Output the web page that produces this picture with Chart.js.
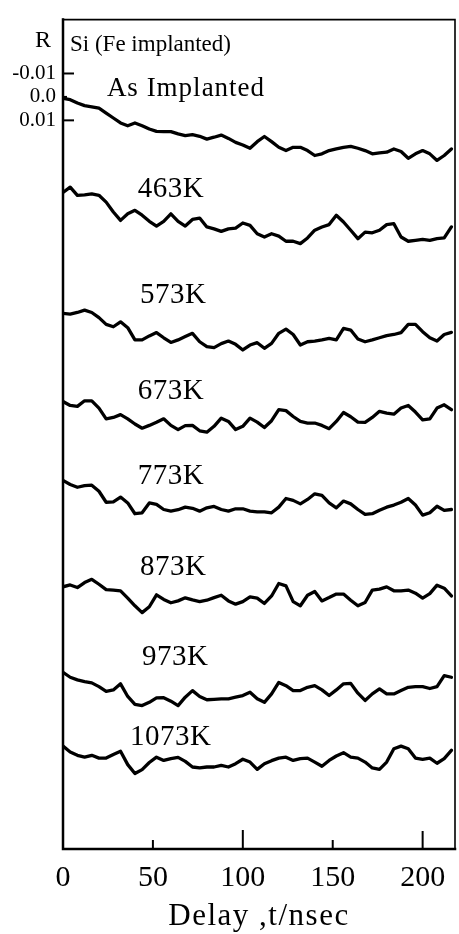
<!DOCTYPE html>
<html><head><meta charset="utf-8">
<script src="https://cdn.jsdelivr.net/npm/chart.js@4/dist/chart.umd.min.js"></script>
<style>html,body{margin:0;padding:0;background:#fff;}canvas{display:block;}</style>
</head><body>
<canvas id="c" width="459" height="934"></canvas>
<script>
// Delay t (nsec)
const delays = [0,4,8,12,16,20,24,28,32,36,40,44,48,52,56,60,64,68,72,76,80,84,88,92,96,100,104,108,112,116,120,124,128,132,136,140,144,148,152,156,160,164,168,172,176,180,184,188,192,196,200,204,208,212,216];
// R values (x 10^-3) as plotted, each curve offset downward on the reversed R axis
const asImplanted = [0.6,1.2,2.6,3.7,4.2,4.8,6.9,9.0,11.1,12.3,11.1,12.3,13.7,14.7,14.8,14.8,15.8,16.5,16.1,16.8,18.0,17.2,16.3,17.7,19.4,20.5,21.9,19.1,16.9,19.1,21.5,22.9,21.5,21.5,22.9,25.0,24.3,22.9,22.2,21.5,21.1,21.9,22.9,24.3,23.9,23.6,22.2,23.3,26.2,24.3,22.9,24.3,27.1,25.0,22.2];
const k463 = [40.8,38.5,42.0,41.8,41.4,42.0,44.9,49.1,52.7,49.9,48.4,50.5,53.1,55.1,53.1,49.9,53.1,55.1,52.3,51.7,55.5,56.3,57.4,56.3,56.0,53.8,54.8,58.4,59.8,58.4,59.4,61.6,61.6,62.6,60.2,56.9,55.5,54.5,50.5,53.4,56.9,60.5,57.7,58.0,56.9,54.5,54.1,59.8,61.6,61.2,60.8,61.2,60.5,60.2,55.5];
const k573 = [92.4,92.7,92.0,91.0,92.0,94.2,97.1,98.1,96.0,98.5,103.7,103.7,102.0,100.6,102.8,104.8,103.7,102.3,100.9,104.5,106.6,107.0,105.3,104.2,105.6,108.0,105.9,104.9,107.3,105.2,100.9,99.1,101.4,105.9,104.5,104.2,103.7,103.1,103.7,98.8,99.5,103.3,104.5,103.7,102.8,101.9,101.4,100.6,97.1,97.1,100.2,102.8,104.2,101.4,100.5];
const k673 = [130.0,131.7,132.1,129.7,129.7,132.8,137.4,136.8,135.6,137.4,139.6,141.4,140.2,138.9,137.4,140.2,142.0,140.3,140.2,142.5,143.1,140.6,137.1,138.5,142.0,140.6,137.1,138.8,141.1,138.2,133.5,133.9,136.4,138.5,139.2,139.2,140.2,141.6,138.5,134.7,136.5,138.8,138.9,136.8,134.2,135.0,135.4,132.8,131.7,134.5,137.8,137.4,132.8,131.4,133.5];
const k773 = [163.7,165.4,166.6,165.9,165.7,168.3,173.0,172.8,170.8,173.3,177.9,177.5,173.3,173.9,176.1,176.8,176.2,175.1,175.6,176.8,175.4,174.8,176.1,176.8,175.8,175.8,176.8,177.1,177.1,177.5,175.1,171.4,172.2,173.7,171.8,169.4,170.1,173.3,175.4,172.5,173.7,176.1,178.2,177.9,176.4,175.1,174.2,173.0,171.4,174.2,178.5,177.5,174.7,176.5,176.1];
const k873 = [209.1,208.3,209.4,207.3,205.9,208.0,210.3,210.5,210.8,213.9,217.2,220.1,217.6,212.5,214.5,215.9,215.1,213.8,214.7,215.4,214.8,213.7,212.7,215.1,216.5,215.4,213.4,213.9,216.2,213.0,207.7,208.7,215.4,217.2,212.7,211.1,215.1,213.7,212.2,212.2,214.8,217.2,215.8,210.5,210.1,209.1,210.8,210.8,210.5,211.8,213.9,212.0,208.4,209.7,213.0];
const k973 = [245.6,247.7,248.8,249.6,250.1,251.7,253.7,253.1,250.5,255.9,259.3,259.8,258.4,256.5,256.4,257.9,259.8,256.2,253.4,255.9,257.3,257.1,256.9,256.9,256.2,255.5,254.1,256.9,258.4,254.8,249.9,251.3,253.4,253.4,252.0,251.3,253.1,255.5,253.1,250.5,250.3,254.5,257.6,254.8,252.7,254.8,254.8,253.4,252.0,251.7,251.7,252.5,251.7,247.0,247.7];
const k1073 = [277.1,279.6,281.0,281.8,281.0,282.2,282.2,280.7,279.3,285.0,288.8,287.1,284.1,281.8,283.2,282.4,281.9,283.6,286.0,286.4,286.0,286.0,285.3,286.0,284.6,282.7,283.9,287.0,284.6,283.3,282.2,281.8,283.2,282.4,282.2,283.9,285.7,283.2,281.3,279.9,281.8,282.2,283.9,286.4,287.0,283.9,278.2,277.1,278.2,282.2,282.7,282.2,284.4,282.4,278.9];
const seriesNames = ['As Implanted','463K','573K','673K','773K','873K','973K','1073K'];
const seriesValues = [asImplanted,k463,k573,k673,k773,k873,k973,k1073];
// tick labels
const xTicks = [0,50,100,150,200];
const yTicks = [-10,0,10];
const yTickLabels = ['-0.01','0.0','0.01'];

// text annotations anchored in data units (t, R x10^-3)
const notes = [
  {text:'Si (Fe implanted)', t:3.9, r:-22.3, size:23, spacing:0},
  {text:'As Implanted', t:24.4, r:-3.6, size:27, spacing:1},
  {text:'463K', t:41.6, r:39.4, size:29, spacing:0.5},
  {text:'573K', t:42.8, r:84.5, size:29, spacing:0.5},
  {text:'673K', t:41.6, r:125.7, size:29, spacing:0.5},
  {text:'773K', t:41.6, r:161.9, size:29, spacing:0.5},
  {text:'873K', t:42.8, r:201.0, size:29, spacing:0.5},
  {text:'973K', t:43.9, r:239.3, size:29, spacing:0.5},
  {text:'1073K', t:37.2, r:273.4, size:29, spacing:0.5}
];
const xMarkLen = {50:8, 100:18, 150:8, 200:17};
const yMarkLen = {'-10':10, '0':3, '10':10};
const FONT = '"Liberation Serif", "Times New Roman", serif';

const decor = {
  id:'decor',
  beforeDraw(chart){
    const sx = chart.scales.x;
    if (!sx._patched){
      const orig = sx.drawTitle;
      sx.drawTitle = function(){
        const c = this.ctx; c.save();
        try { c.letterSpacing = '1.5px'; } catch(e){}
        orig.apply(this, arguments); c.restore();
      };
      sx._patched = true;
    }
  },
  afterDraw(chart){
    const {ctx, chartArea:a, scales:{x, y}} = chart;
    ctx.save();
    ctx.strokeStyle = '#000'; ctx.fillStyle = '#000';
    ctx.lineCap = 'square';
    ctx.lineWidth = 2.5;
    ctx.beginPath(); ctx.moveTo(a.left, a.top); ctx.lineTo(a.left, a.bottom); ctx.lineTo(a.right, a.bottom); ctx.stroke();
    ctx.lineWidth = 1.6;
    ctx.beginPath(); ctx.moveTo(a.left, a.top); ctx.lineTo(a.right, a.top); ctx.lineTo(a.right, a.bottom); ctx.stroke();
    ctx.lineWidth = 2;
    xTicks.forEach(v => {
      const len = xMarkLen[v]; if (!len) return;
      const px = x.getPixelForValue(v);
      ctx.beginPath(); ctx.moveTo(px, a.bottom); ctx.lineTo(px, a.bottom - len); ctx.stroke();
    });
    yTicks.forEach(v => {
      const len = yMarkLen[String(v)];
      const py = y.getPixelForValue(v);
      ctx.beginPath(); ctx.moveTo(a.left, py); ctx.lineTo(a.left + len, py); ctx.stroke();
    });
    ctx.textBaseline = 'middle'; ctx.textAlign = 'left';
    notes.forEach(n => {
      ctx.font = n.size + 'px ' + FONT;
      try { ctx.letterSpacing = n.spacing + 'px'; } catch(e){}
      ctx.fillText(n.text, x.getPixelForValue(n.t), y.getPixelForValue(n.r));
    });
    try { ctx.letterSpacing = '0px'; } catch(e){}
    ctx.font = '24px ' + FONT; ctx.textAlign = 'center';
    ctx.fillText('R', a.left - 20, a.top + 21);
    ctx.restore();
  }
};

Chart.defaults.color = '#000';
Chart.defaults.font.family = FONT;

new Chart(document.getElementById('c'), {
  type:'line',
  data:{
    datasets: seriesValues.map((vals, i) => ({
      label: seriesNames[i],
      data: delays.map((t, j) => ({x:t, y:vals[j]})),
      borderColor:'#000', backgroundColor:'#000',
      borderWidth:3.3, pointRadius:0, tension:0, fill:false,
      borderJoinStyle:'round', borderCapStyle:'round'
    }))
  },
  options:{
    responsive:false, animation:false, devicePixelRatio:1,
    layout:{padding:{left:0, right:4, top:17, bottom:0}},
    plugins:{legend:{display:false}, tooltip:{enabled:false}},
    scales:{
      x:{
        type:'linear', min:0, max:218,
        afterBuildTicks(s){ s.ticks = xTicks.map(v => ({value:v})); },
        afterFit(s){ s.height = 85; },
        grid:{display:false, drawTicks:false},
        border:{display:false},
        ticks:{font:{size:30, family:FONT}, padding:11, maxRotation:0, autoSkip:false},
        title:{display:true, text:'Delay ,t/nsec', font:{size:31, family:FONT, lineHeight:1}, padding:{top:0, bottom:2}}
      },
      y:{
        type:'linear', reverse:true, min:-33, max:321,
        afterBuildTicks(s){ s.ticks = yTicks.map(v => ({value:v})); },
        afterFit(s){ s.width = 63; },
        grid:{display:false, drawTicks:false},
        border:{display:false},
        ticks:{font:{size:21, family:FONT}, padding:7, autoSkip:false,
          callback(v){ const i = yTicks.indexOf(v); return i >= 0 ? yTickLabels[i] : ''; }}
      }
    }
  },
  plugins:[decor]
});
</script>
</body></html>
